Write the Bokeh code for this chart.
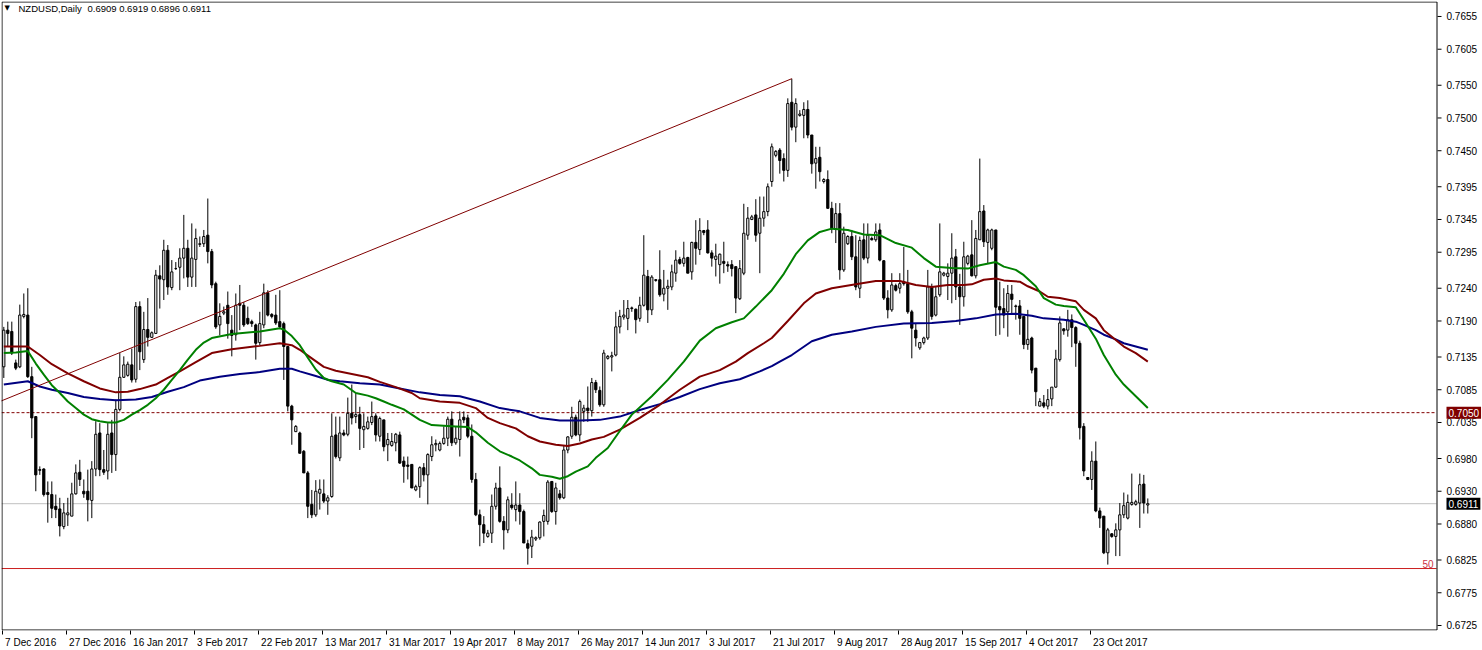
from bokeh.plotting import figure
from bokeh.models import (ColumnDataSource, LinearAxis, FixedTicker, Label, Range1d)
from bokeh.core.properties import value
from bokeh.embed import file_html
from bokeh.resources import INLINE

# ---------------- data ----------------
opens = [
    .7120, .7176, .7174, .7126, .7120, .7197, .7199, .7105, .7044, .6963,
    .6964, .6928, .6925, .6907, .6903, .6876, .6894, .6892, .6926, .6959,
    .6930, .6930, .6916, .6964, .7019, .6963, .6961, .7019, .6986, .7055,
    .7104, .7107, .7123, .7101, .7212, .7131, .7177, .7165, .7171, .7259,
    .7253, .7298, .7241, .7270, .7272, .7286, .7301, .7257, .7284, .7307,
    .7308, .7321, .7296, .7247, .7184, .7202, .7214, .7176, .7169, .7217,
    .7214, .7194, .7189, .7184, .7157, .7184, .7233, .7200, .7199, .7189,
    .7186, .7151, .7060, .7021, .7019, .6991, .6958, .6910, .6894, .6927,
    .6926, .6915, .6922, .7016, .6981, .7019, .7017, .7049, .7044, .7047,
    .7024, .7026, .7035, .7045, .7014, .7039, .7001, .7000, .7004, .7016,
    .6976, .6970, .6971, .6932, .6937, .6966, .6955, .6983, .7001, .6993,
    .7003, .7011, .7040, .7004, .7009, .7043, .7042, .7014, .6948, .6894,
    .6879, .6861, .6866, .6907, .6935, .6884, .6871, .6909, .6902, .6909,
    .6899, .6850, .6846, .6857, .6859, .6884, .6884, .6945, .6899, .6926,
    .6920, .6993, .7014, .7043, .7016, .7052, .7057, .7053, .7096, .7084,
    .7062, .7133, .7135, .7138, .7181, .7196, .7194, .7209, .7208, .7194,
    .7214, .7258, .7207, .7253, .7253, .7231, .7240, .7242, .7263, .7284,
    .7278, .7287, .7265, .7310, .7299, .7328, .7329, .7294, .7284, .7276,
    .7281, .7276, .7276, .7273, .7224, .7263, .7321, .7345, .7352, .7324,
    .7347, .7357, .7403, .7443, .7451, .7438, .7420, .7524, .7486, .7504,
    .7504, .7513, .7474, .7431, .7440, .7403, .7406, .7362, .7331, .7354,
    .7268, .7308, .7319, .7288, .7240, .7314, .7286, .7316, .7314, .7329,
    .7282, .7225, .7207, .7244, .7240, .7250, .7247, .7204, .7176, .7149,
    .7157, .7164, .7242, .7199, .7230, .7260, .7258, .7263, .7288, .7242,
    .7227, .7278, .7291, .7259, .7314, .7358, .7310, .7301, .7329, .7212,
    .7209, .7204, .7231, .7212, .7213, .7197, .7154, .7164, .7118, .7060,
    .7065, .7060, .7071, .7089, .7131, .7178, .7176, .7192, .7180, .7156,
    .7029, .6951, .6948, .6976, .6900, .6892, .6836, .6865, .6861, .6871,
    .6894, .6889, .6910, .6910, .6912, .6941, .6909,
]
highs = [
    .7181, .7189, .7189, .7131, .7215, .7232, .7240, .7120, .7044, .6968,
    .6965, .6945, .6945, .6925, .6920, .6912, .6920, .6943, .6971, .6978,
    .6948, .6963, .6976, .7037, .7034, .6993, .7034, .7039, .7070, .7141,
    .7136, .7128, .7148, .7219, .7220, .7204, .7225, .7174, .7268, .7275,
    .7314, .7306, .7283, .7280, .7301, .7352, .7314, .7339, .7331, .7319,
    .7329, .7377, .7300, .7250, .7217, .7212, .7235, .7199, .7232, .7245,
    .7219, .7212, .7192, .7186, .7204, .7247, .7237, .7202, .7230, .7237,
    .7189, .7151, .7062, .7031, .7021, .6993, .6961, .6932, .6947, .6948,
    .6948, .6924, .7049, .7044, .7044, .7024, .7073, .7093, .7080, .7059,
    .7049, .7044, .7067, .7049, .7044, .7039, .7019, .7019, .7019, .7021,
    .6983, .6983, .6971, .6940, .6968, .6973, .6988, .7014, .7009, .7006,
    .7029, .7044, .7052, .7029, .7052, .7052, .7047, .7032, .6958, .6902,
    .6892, .6871, .6925, .6943, .6968, .6892, .6922, .6927, .6945, .6927,
    .6902, .6856, .6871, .6861, .6884, .6902, .6947, .6945, .6943, .6932,
    .6999, .7014, .7059, .7047, .7070, .7062, .7090, .7103, .7100, .7090,
    .7146, .7138, .7143, .7204, .7207, .7222, .7222, .7212, .7209, .7227,
    .7321, .7268, .7260, .7254, .7298, .7268, .7253, .7276, .7298, .7288,
    .7311, .7288, .7311, .7344, .7347, .7329, .7344, .7298, .7308, .7293,
    .7311, .7281, .7283, .7273, .7283, .7369, .7364, .7352, .7376, .7380,
    .7380, .7400, .7461, .7451, .7454, .7446, .7530, .7560, .7530, .7512,
    .7524, .7527, .7474, .7456, .7456, .7408, .7420, .7372, .7370, .7370,
    .7334, .7321, .7329, .7321, .7319, .7339, .7339, .7319, .7339, .7339,
    .7283, .7237, .7263, .7247, .7263, .7303, .7268, .7207, .7187, .7158,
    .7166, .7268, .7247, .7242, .7339, .7265, .7278, .7324, .7300, .7262,
    .7311, .7291, .7344, .7329, .7438, .7367, .7331, .7331, .7329, .7250,
    .7240, .7245, .7245, .7215, .7222, .7197, .7207, .7166, .7118, .7072,
    .7077, .7086, .7089, .7146, .7197, .7179, .7207, .7200, .7182, .7160,
    .7034, .6951, .6991, .7006, .6905, .6892, .6874, .6866, .6881, .6912,
    .6928, .6925, .6957, .6917, .6957, .6955, .6919,
]
lows = [
    .7103, .7151, .7138, .7115, .7118, .7194, .7103, .7011, .6930, .6955,
    .6922, .6882, .6889, .6889, .6861, .6872, .6877, .6892, .6925, .6938,
    .6920, .6884, .6889, .6953, .6953, .6955, .6948, .6958, .6961, .7052,
    .7103, .7105, .7096, .7096, .7115, .7126, .7151, .7164, .7171, .7209,
    .7222, .7230, .7237, .7268, .7237, .7255, .7242, .7242, .7242, .7303,
    .7303, .7278, .7240, .7178, .7168, .7199, .7163, .7136, .7160, .7176,
    .7181, .7184, .7181, .7131, .7153, .7179, .7197, .7194, .7184, .7179,
    .7100, .7052, .7001, .7021, .6988, .6958, .6889, .6889, .6891, .6902,
    .6912, .6894, .6920, .6980, .6976, .7014, .7014, .7032, .7034, .6993,
    .6996, .7024, .7031, .7006, .7006, .6991, .6976, .6998, .6991, .6972,
    .6943, .6948, .6935, .6930, .6920, .6945, .6910, .6976, .6991, .6991,
    .7001, .6999, .6999, .7001, .6983, .7034, .7011, .6943, .6892, .6846,
    .6851, .6859, .6851, .6902, .6882, .6841, .6866, .6902, .6884, .6879,
    .6851, .6818, .6828, .6854, .6856, .6861, .6879, .6897, .6879, .6917,
    .6918, .6988, .7010, .7014, .7006, .7036, .7036, .7044, .7080, .7059,
    .7059, .7131, .7113, .7136, .7171, .7192, .7176, .7204, .7171, .7189,
    .7212, .7187, .7199, .7250, .7227, .7220, .7207, .7237, .7250, .7276,
    .7273, .7263, .7253, .7276, .7291, .7321, .7293, .7273, .7258, .7247,
    .7263, .7265, .7258, .7202, .7222, .7260, .7314, .7344, .7311, .7263,
    .7334, .7350, .7395, .7440, .7415, .7403, .7410, .7481, .7463, .7502,
    .7469, .7469, .7415, .7392, .7403, .7400, .7362, .7324, .7309, .7253,
    .7265, .7306, .7283, .7237, .7225, .7283, .7278, .7313, .7311, .7281,
    .7222, .7194, .7204, .7235, .7232, .7244, .7201, .7133, .7151, .7146,
    .7154, .7161, .7192, .7197, .7227, .7258, .7222, .7217, .7222, .7184,
    .7212, .7275, .7258, .7255, .7314, .7303, .7278, .7298, .7167, .7169,
    .7179, .7166, .7202, .7192, .7169, .7147, .7146, .7110, .7060, .7060,
    .7057, .7055, .7060, .7088, .7128, .7169, .7166, .7150, .7120, .7009,
    .6953, .6947, .6932, .6898, .6874, .6834, .6818, .6859, .6831, .6831,
    .6889, .6887, .6908, .6908, .6874, .6896, .6896,
]
closes = [
    .7176, .7171, .7141, .7118, .7199, .7200, .7105, .7042, .6955, .6962,
    .6925, .6925, .6904, .6902, .6877, .6897, .6897, .6926, .6958, .6948,
    .6926, .6917, .6964, .7017, .6963, .6959, .7017, .6986, .7055, .7104,
    .7123, .7124, .7100, .7212, .7143, .7177, .7165, .7172, .7260, .7254,
    .7298, .7242, .7265, .7270, .7286, .7301, .7257, .7286, .7316, .7308,
    .7319, .7296, .7245, .7181, .7197, .7204, .7186, .7168, .7214, .7214,
    .7184, .7186, .7186, .7156, .7186, .7233, .7199, .7197, .7187, .7181,
    .7151, .7060, .7039, .7029, .6988, .6958, .6907, .6894, .6930, .6933,
    .6915, .6920, .7014, .6983, .7019, .7016, .7049, .7042, .7047, .7026,
    .7029, .7036, .7044, .7016, .7041, .6998, .7009, .7006, .7017, .6973,
    .6968, .6968, .6935, .6937, .6966, .6955, .6986, .7001, .7003, .7003,
    .7011, .7040, .7004, .7011, .7039, .7039, .7014, .6948, .6894, .6879,
    .6866, .6866, .6907, .6935, .6884, .6871, .6917, .6905, .6909, .6899,
    .6851, .6843, .6860, .6859, .6883, .6893, .6944, .6899, .6935, .6920,
    .6993, .7013, .7043, .7016, .7067, .7057, .7053, .7096, .7085, .7062,
    .7141, .7136, .7137, .7181, .7197, .7199, .7209, .7210, .7192, .7214,
    .7260, .7207, .7257, .7252, .7230, .7240, .7243, .7265, .7283, .7278,
    .7286, .7263, .7310, .7301, .7328, .7325, .7294, .7286, .7289, .7292,
    .7278, .7274, .7270, .7225, .7270, .7324, .7347, .7349, .7321, .7347,
    .7357, .7395, .7456, .7449, .7435, .7420, .7522, .7486, .7522, .7506,
    .7513, .7474, .7430, .7438, .7418, .7406, .7362, .7331, .7354, .7268,
    .7324, .7319, .7288, .7242, .7313, .7286, .7321, .7314, .7326, .7283,
    .7225, .7207, .7245, .7237, .7247, .7247, .7204, .7179, .7164, .7157,
    .7164, .7242, .7197, .7227, .7265, .7263, .7263, .7286, .7242, .7227,
    .7288, .7289, .7259, .7316, .7357, .7311, .7329, .7329, .7211, .7207,
    .7199, .7232, .7223, .7213, .7194, .7154, .7162, .7115, .7082, .7067,
    .7060, .7070, .7089, .7132, .7187, .7175, .7192, .7180, .7156, .7027,
    .6961, .6948, .6976, .6900, .6889, .6836, .6871, .6861, .6871, .6894,
    .6908, .6913, .6913, .6914, .6940, .6912, .6911,
]

# moving averages, read at these bar positions
green_bars = [0, 3, 6, 8, 10, 12, 14, 16, 18, 20, 22, 24, 26, 28, 30, 32, 34, 36, 38, 40,
              42, 44, 46, 48, 50, 52, 57, 64, 69, 70, 72, 74, 76, 78, 80, 82, 85, 88, 91, 93,
              95, 97, 100, 102, 104, 107, 110, 113, 116, 118, 121, 124, 127, 129, 132, 134, 137, 139, 141, 143,
              146, 148, 151, 154, 157, 162, 166, 170, 174, 178, 182, 185, 188, 192, 195, 198, 201, 204, 207, 211,
              215, 219, 223, 227, 230, 233, 237, 241, 244, 248, 250, 253, 255, 258, 260, 263, 265, 268, 270, 273,
              275, 278, 280, 283, 286]
green_vals = [.7141, .7142, .7144, .7125, .7108, .7092, .7080, .7067, .7057, .7047,
              .7040, .7037, .7035, .7035, .7039, .7047, .7054, .7062, .7072, .7085,
              .7100, .7115, .7131, .7146, .7157, .7164, .7170, .7174, .7179, .7177,
              .7167, .7153, .7134, .7116, .7103, .7098, .7093, .7080, .7076, .7072,
              .7067, .7062, .7055, .7047, .7039, .7031, .7030, .7029, .7028, .7020,
              .7004, .6991, .6983, .6977, .6965, .6955, .6952, .6949, .6953, .6960,
              .6968, .6981, .6996, .7022, .7047, .7075, .7100, .7128, .7160, .7179,
              .7188, .7194, .7212, .7237, .7262, .7292, .7313, .7326, .7331, .7329,
              .7322, .7321, .7309, .7302, .7286, .7273, .7271, .7270, .7275, .7280,
              .7273, .7268, .7260, .7243, .7225, .7215, .7213, .7211, .7192, .7163,
              .7138, .7108, .7093, .7075, .7057]

red_bars = [0, 6, 9, 12, 16, 20, 24, 28, 31, 34, 38, 41, 44, 48, 52, 57, 64, 69, 72, 74,
            77, 80, 83, 87, 91, 94, 98, 102, 104, 109, 114, 118, 121, 124, 128, 131, 134, 138, 141, 144,
            147, 150, 154, 159, 164, 169, 174, 179, 183, 186, 190, 192, 196, 200, 203, 207, 213, 218, 224, 228,
            232, 236, 240, 242, 245, 248, 250, 254, 256, 259, 261, 264, 268, 270, 273, 275, 278, 280, 283, 286]
red_vals = [.7151, .7151, .7138, .7124, .7110, .7098, .7087, .7081, .7082, .7086,
            .7093, .7103, .7113, .7127, .7141, .7147, .7152, .7156, .7153, .7146,
            .7133, .7120, .7114, .7109, .7104, .7097, .7089, .7080, .7072, .7067,
            .7065, .7057, .7042, .7034, .7026, .7014, .7006, .7001, .6999, .7003,
            .7009, .7013, .7024, .7042, .7062, .7085, .7105, .7115, .7128, .7141,
            .7156, .7164, .7190, .7217, .7232, .7240, .7246, .7251, .7251, .7245,
            .7242, .7245, .7245, .7246, .7253, .7255, .7252, .7250, .7243, .7235,
            .7227, .7225, .7220, .7207, .7194, .7176, .7161, .7151, .7141, .7128]

blue_bars = [0, 6, 9, 12, 16, 20, 24, 28, 33, 37, 41, 45, 49, 54, 59, 64, 69, 72, 74, 78,
             81, 84, 89, 94, 99, 104, 109, 114, 119, 124, 129, 134, 139, 144, 149, 154, 159, 164, 169, 174,
             179, 184, 189, 192, 194, 197, 202, 207, 212, 218, 225, 232, 238, 243, 248, 253, 257, 260, 265, 268,
             270, 273, 275, 278, 280, 283, 286]
blue_vals = [.7093, .7098, .7090, .7085, .7080, .7074, .7071, .7069, .7070, .7074,
             .7082, .7089, .7099, .7105, .7109, .7112, .7117, .7117, .7113, .7106,
             .7100, .7098, .7095, .7093, .7087, .7081, .7077, .7075, .7067, .7057,
             .7052, .7042, .7038, .7038, .7039, .7044, .7054, .7063, .7074, .7086,
             .7095, .7101, .7113, .7121, .7128, .7138, .7159, .7169, .7174, .7181,
             .7186, .7187, .7190, .7194, .7200, .7201, .7198, .7194, .7192, .7189,
             .7184, .7176, .7169, .7162, .7156, .7151, .7146]

trend_bars = [-1, 197]
trend_vals = [0.7067, 0.7560]

date_tick_bars = [0, 16, 32, 48, 64, 80, 96, 112, 128, 144, 160, 176, 192, 208, 224, 240, 256, 272]
date_tick_labels = ["7 Dec 2016", "27 Dec 2016", "16 Jan 2017", "3 Feb 2017", "22 Feb 2017",
                    "13 Mar 2017", "31 Mar 2017", "19 Apr 2017", "8 May 2017", "26 May 2017",
                    "14 Jun 2017", "3 Jul 2017", "21 Jul 2017", "9 Aug 2017", "28 Aug 2017",
                    "15 Sep 2017", "4 Oct 2017", "23 Oct 2017"]
price_ticks = [0.7655, 0.7605, 0.7550, 0.7500, 0.7450, 0.7395, 0.7345, 0.7295, 0.7240, 0.7190,
               0.7135, 0.7085, 0.7035, 0.6980, 0.6930, 0.6880, 0.6825, 0.6775, 0.6725]

level_dashed = 0.7050
level_bid = 0.6911
level_red = 0.6812
level_red_name = "50"
symbol_text = "NZDUSD,Daily"
ohlc_text = "0.6909 0.6919 0.6896 0.6911"

# ---------------- layout / style ----------------
W, H = 1482, 650
B_L, B_R, B_T = 1, 1, 1
BOTTOM = 19                      # expected height of the date axis panel
FRAME_H = H - B_T - BOTTOM
CHART_RIGHT = 1436               # page x of the chart's right border (price scale to its right)
PX_BAR = 4.0                     # pixels per daily bar
PX_PRICE = 6559.0                # pixels per price unit
X0 = (B_L - 3.3) / PX_BAR
X1 = X0 + (W - B_L - B_R) / PX_BAR
Y1 = 0.7655 + (16 - B_T) / PX_PRICE
Y0 = Y1 - FRAME_H / PX_PRICE
FONT = "Liberation Sans"
FS = "10px"


def dx(px):
    return X0 + (px - B_L) / PX_BAR


def dy(py):
    return Y1 - (py - B_T) / PX_PRICE


p = figure(width=W, height=H, x_range=Range1d(X0, X1), y_range=Range1d(Y0, Y1),
           output_backend="svg", toolbar_location=None, tools="",
           x_axis_location=None, y_axis_location=None,
           min_border_left=B_L, min_border_right=B_R, min_border_top=B_T, min_border_bottom=0,
           background_fill_color="white", border_fill_color="white")
p.outline_line_color = None
p.xgrid.visible = False
p.ygrid.visible = False

# bottom date axis: tick marks (minor ticks) at the bars, labels left-aligned after them
char_w = {"0": 556, "1": 556, "2": 556, "3": 556, "4": 556, "5": 556, "6": 556, "7": 556,
          "8": 556, "9": 556, " ": 278, "D": 722, "e": 556, "c": 500, "J": 500, "a": 556,
          "n": 556, "F": 611, "b": 556, "M": 833, "r": 333, "A": 667, "p": 556, "y": 500,
          "u": 556, "l": 222, "g": 556, "S": 667, "O": 778, "t": 278}
tick_pos = [b - 0.3 for b in date_tick_bars]
label_pos = []
for t, lbl in zip(tick_pos, date_tick_labels):
    w = sum(char_w.get(ch, 556) for ch in lbl) * 10 / 1000.0
    label_pos.append(round(t + (2.5 + w / 2.0) / PX_BAR, 3))
xa = LinearAxis(ticker=FixedTicker(ticks=label_pos, minor_ticks=tick_pos),
                major_label_overrides={pos: lbl for pos, lbl in zip(label_pos, date_tick_labels)},
                major_tick_out=4, major_tick_in=0, major_tick_line_color=None,
                minor_tick_out=4, minor_tick_in=0, minor_tick_line_color="black",
                axis_line_color=None, major_label_standoff=2,
                major_label_text_font=FONT, major_label_text_font_size=FS,
                major_label_text_color="black")
p.add_layout(xa, "below")

# horizontal levels (chart area only)
xl, xr = dx(B_L), dx(CHART_RIGHT)
p.segment(x0=[xl], y0=[level_bid], x1=[xr], y1=[level_bid], line_color="#c0c0c0", line_width=1)
p.segment(x0=[xl], y0=[level_dashed], x1=[xr], y1=[level_dashed], line_color="#800000",
          line_width=1, line_dash="3 2")
p.segment(x0=[xl], y0=[level_red], x1=[xr], y1=[level_red], line_color="#cc2020", line_width=1)

# candles
bars = list(range(len(closes)))
src = ColumnDataSource(dict(
    x=bars, o=opens, h=highs, l=lows, c=closes,
    top=[max(a, b) for a, b in zip(opens, closes)],
    bot=[min(a, b) for a, b in zip(opens, closes)],
    fill=["white" if c >= o else "black" for o, c in zip(opens, closes)],
))
p.segment(x0="x", y0="h", x1="x", y1="l", source=src, line_color="black", line_width=1)
p.vbar(x="x", width=0.55, top="top", bottom="bot", source=src,
       fill_color="fill", line_color="black", line_width=1)

# moving averages
p.line(blue_bars, blue_vals, line_color="#000080", line_width=2)
p.line(red_bars, red_vals, line_color="#800000", line_width=2)
p.line(green_bars, green_vals, line_color="#008000", line_width=2)

# trend line
p.line(trend_bars, trend_vals, line_color="#800000", line_width=1)

# chart border
yt, yb = dy(B_T + 0.5), dy(B_T + FRAME_H - 0.5)
xL, xR = dx(B_L + 0.5), dx(CHART_RIGHT + 0.5)
p.segment(x0=[xL, xL, xL, xR], y0=[yt, yb, yb, yb], x1=[xR, xR, xL, xR], y1=[yt, yb, yt, yt],
          line_color="black", line_width=1)

# price scale on the right of the chart
p.segment(x0=[dx(CHART_RIGHT + 1)] * len(price_ticks), y0=price_ticks,
          x1=[dx(CHART_RIGHT + 5)] * len(price_ticks), y1=price_ticks,
          line_color="black", line_width=1)
p.text(x=[dx(CHART_RIGHT + 10)] * len(price_ticks), y=price_ticks,
       text=["%.4f" % t for t in price_ticks],
       text_font=value(FONT), text_font_size=FS, text_color="black",
       text_align="left", text_baseline="middle")

# price tags
for lvl, bg in ((level_dashed, "#800000"), (level_bid, "black")):
    p.add_layout(Label(x=dx(CHART_RIGHT + 10), y=lvl, text="%.4f" % lvl,
                       text_font=FONT, text_font_size=FS, text_color="white",
                       text_baseline="middle", text_align="left",
                       background_fill_color=bg, padding=2))

# level name
p.add_layout(Label(x=dx(CHART_RIGHT - 3), y=level_red, text=level_red_name,
                   text_font=FONT, text_font_size=FS, text_color="#cc3344",
                   text_baseline="bottom", text_align="right", y_offset=1))

# header
p.add_layout(Label(x=dx(4), y=dy(4), text="\u25bc",
                   text_font="DejaVu Sans", text_font_size="7px", text_color="black",
                   text_baseline="top", text_align="left"))
p.add_layout(Label(x=dx(18), y=dy(3), text=symbol_text,
                   text_font=FONT, text_font_size="9.5px", text_color="black",
                   text_baseline="top", text_align="left"))
p.add_layout(Label(x=dx(87), y=dy(3), text=ohlc_text,
                   text_font=FONT, text_font_size="9.5px", text_color="black",
                   text_baseline="top", text_align="left"))

open("out.html", "w").write(file_html(p, INLINE))
